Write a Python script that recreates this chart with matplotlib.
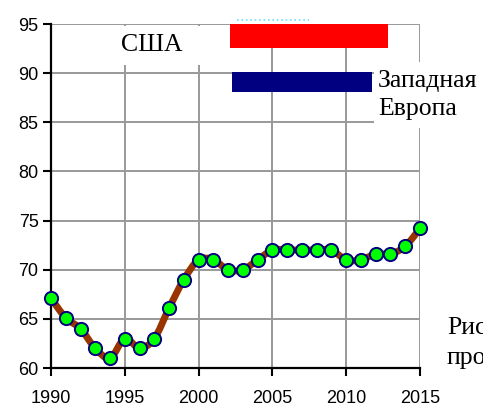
import matplotlib.pyplot as plt
from matplotlib.path import Path
from matplotlib.patches import PathPatch, Rectangle

years = list(range(1990, 2016))
values = [67.1, 65.1, 64.0, 62.0, 61.0, 63.0, 62.0, 63.0, 66.1, 69.0,
          71.0, 71.0, 70.0, 70.0, 71.0, 72.0, 72.0, 72.0, 72.0, 72.0,
          71.0, 71.0, 71.6, 71.6, 72.4, 74.2]
xticks = [1990, 1995, 2000, 2005, 2010, 2015]
yticks = [60, 65, 70, 75, 80, 85, 90, 95]

def smooth_path(xs, ys):
	# Excel-like smoothed line: cubic Bezier segments through the points
	pts = list(zip(xs, ys))
	verts = [pts[0]]
	codes = [Path.MOVETO]
	n = len(pts)
	for i in range(n - 1):
		p0 = pts[i - 1] if i > 0 else pts[i]
		p1 = pts[i]
		p2 = pts[i + 1]
		p3 = pts[i + 2] if i + 2 < n else pts[i + 1]
		c1 = (p1[0] + (p2[0] - p0[0]) / 6, p1[1] + (p2[1] - p0[1]) / 6)
		c2 = (p2[0] - (p3[0] - p1[0]) / 6, p2[1] - (p3[1] - p1[1]) / 6)
		verts += [c1, c2, p2]
		codes += [Path.CURVE4] * 3
	return Path(verts, codes)

fig = plt.figure(figsize=(4.83, 4.09), dpi=100)
ax = fig.add_axes([0.1056, 0.1002, 0.764, 0.8411])
ax.set_xlim(1990, 2015)
ax.set_ylim(60, 95)
ax.set_xticks(xticks)
ax.set_yticks(yticks)
ax.grid(True, color="#999999", linewidth=1.4)
ax.set_axisbelow(True)
for s in ["top", "right"]:
	ax.spines[s].set_visible(False)
for s in ["left", "bottom"]:
	ax.spines[s].set_linewidth(1.6)
ax.tick_params(axis="both", direction="out", length=6, width=1.5,
	labelsize=13, pad=3)
for lab in ax.get_xticklabels() + ax.get_yticklabels():
	lab.set_fontfamily("Liberation Sans")
ax.tick_params(axis="x", pad=10)

# white boxes behind the text labels
ax.add_patch(Rectangle((0.146, 0.881), 0.29, 0.112, transform=ax.transAxes,
	facecolor="white", edgecolor="none", zorder=1.5))
ax.add_patch(Rectangle((0.875, 0.698), 0.4, 0.192, transform=ax.transAxes,
	facecolor="white", edgecolor="none", zorder=1.5, clip_on=False))

ax.add_patch(PathPatch(smooth_path(years, values), fill=False, edgecolor="#993300",
	linewidth=5, capstyle="round", joinstyle="round", zorder=3))
ax.plot(years, values, linestyle="none", marker="o", markersize=9.5,
	markerfacecolor="#00ff00", markeredgecolor="#000080", markeredgewidth=1.4,
	zorder=4, clip_on=False)

ax.add_patch(Rectangle((0.485, 0.930), 0.428, 0.07, transform=ax.transAxes,
	facecolor="#ff0000", edgecolor="none", zorder=5, clip_on=False))
ax.add_patch(Rectangle((0.49, 0.802), 0.38, 0.058, transform=ax.transAxes,
	facecolor="#000080", edgecolor="none", zorder=5, clip_on=False))
ax.plot([0.504, 0.70], [1.011, 1.011], transform=ax.transAxes, color="#66e0ff",
	linewidth=1.2, linestyle=":", clip_on=False, zorder=5)

serif = "Liberation Serif"
ax.text(0.274, 0.939, "США", transform=ax.transAxes, ha="center", va="center",
	fontsize=18.5, family=serif, zorder=6)
ax.text(0.886, 0.833, "Западная", transform=ax.transAxes, ha="left", va="center",
	fontsize=18.5, family=serif, zorder=6, clip_on=False)
ax.text(0.886, 0.752, "Европа", transform=ax.transAxes, ha="left", va="center",
	fontsize=18.5, family=serif, zorder=6, clip_on=False)
ax.text(1.073, 0.115, "Рис", transform=ax.transAxes, ha="left", va="center",
	fontsize=18.5, family=serif, zorder=6, clip_on=False)
ax.text(1.073, 0.030, "про", transform=ax.transAxes, ha="left", va="center",
	fontsize=18.5, family=serif, zorder=6, clip_on=False)

fig.savefig("out.png", dpi=100)
